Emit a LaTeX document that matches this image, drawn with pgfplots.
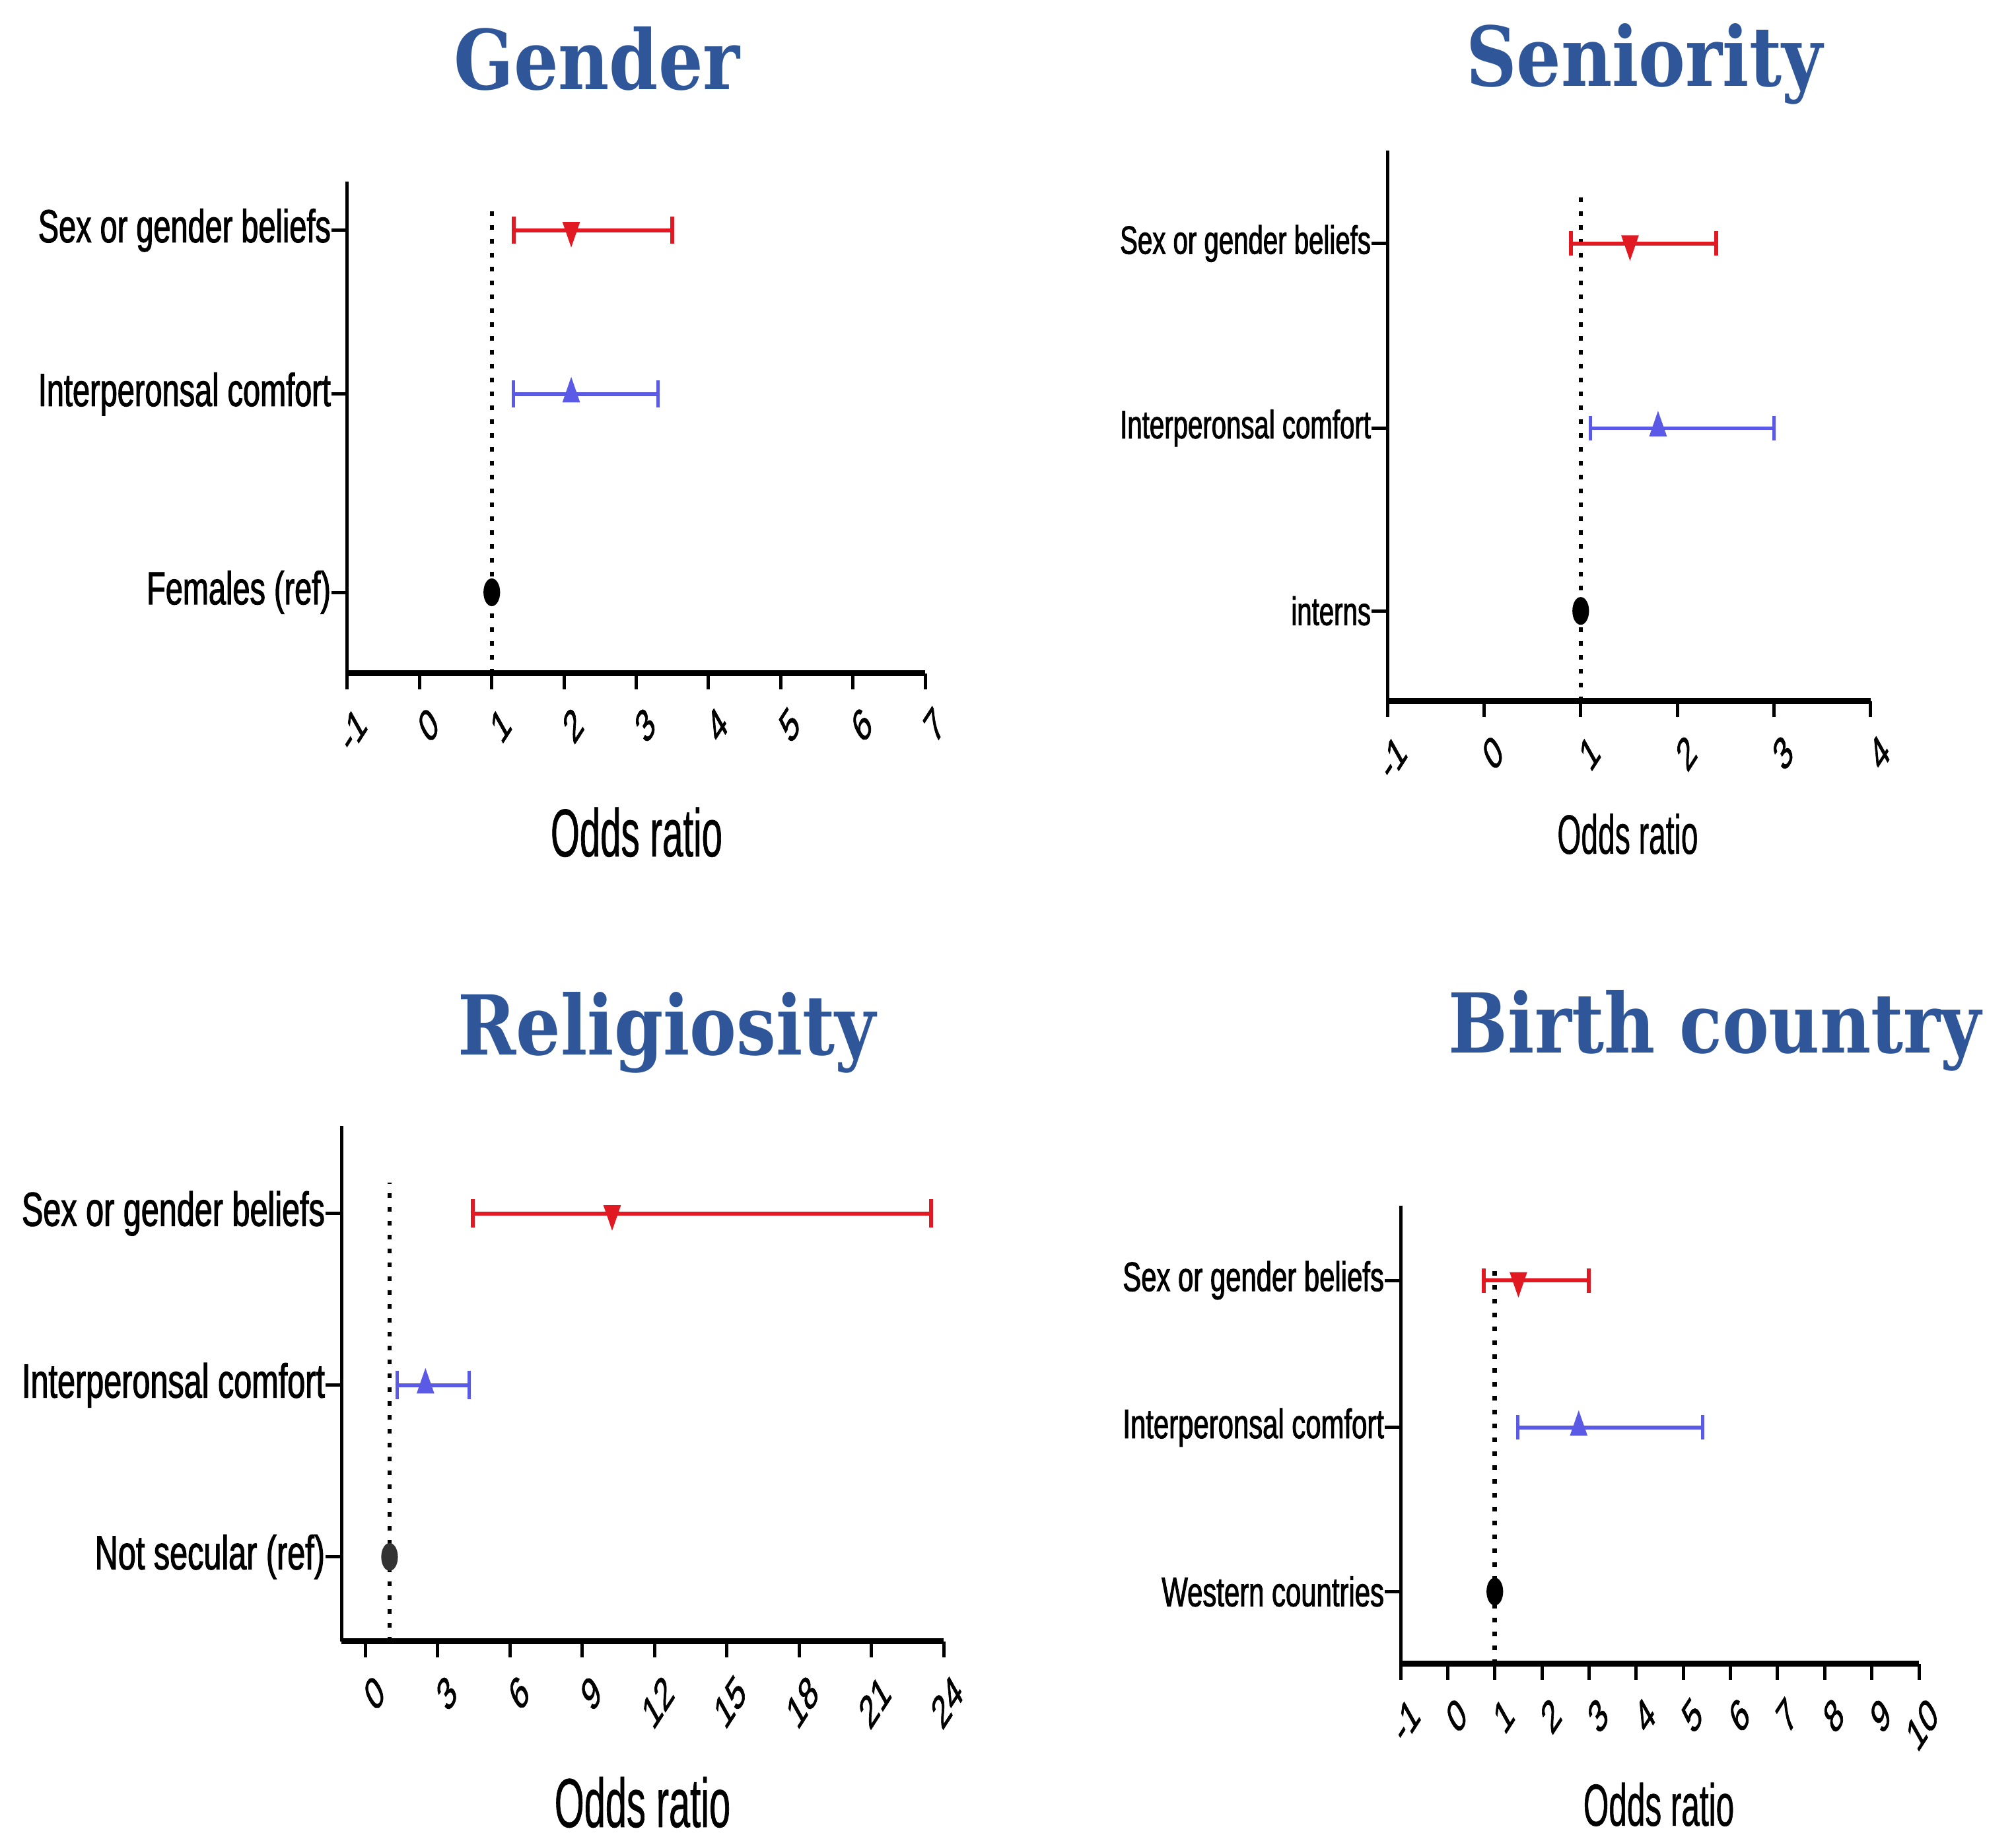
\documentclass[border=0pt]{standalone}
\usepackage{fontspec}
\setmainfont{Liberation Sans}
\newfontfamily\labfont{Liberation Sans}[FakeStretch=0.67, FakeBold=1.5]
\newfontfamily\tickfont{Liberation Sans}[FakeBold=1.5]
\newfontfamily\oddfont{Liberation Sans}[FakeStretch=0.55, FakeBold=0.6]
\newfontfamily\titlefont{DejaVu Serif}[FakeStretch=0.85]
\usepackage{pgfplots}
\pgfplotsset{compat=1.18}
\definecolor{redbar}{HTML}{E11923}
\definecolor{bluebar}{HTML}{5A5AE6}
\definecolor{titleblue}{HTML}{30569A}
\pgfplotsset{
  forest/.style={
    scale only axis, anchor=south west, clip=false,
    axis lines=left, axis line style={-},
    x axis line style={-, line width=1.8pt},
    y axis line style={-, line width=1pt},
    ymin=0, ymax=1,
    tick align=outside, major tick length=4.8pt,
    tick style={black, line width=1pt},
    minor tick num=0,
    /pgf/number format/assume math mode=true,
    xticklabel style={font=\tickfont\fontsize{14}{14}\selectfont, xscale=0.6, rotate=43, anchor=east, inner sep=0pt, yshift=-11pt},
  },
  catlab/.style={yticklabel style={font=\labfont\fontsize{#1}{#1}\selectfont, inner sep=0pt, anchor=east}},
  refline/.style={black, line width=1.3pt, dash pattern=on 1.3pt off 2.9pt},
  redci/.style={redbar, line width=1.2pt, mark=|, mark size=#1, mark options={solid}},
  blueci/.style={bluebar, line width=1.1pt, mark=|, mark size=#1, mark options={solid}},
  redpt/.style={only marks, redbar, mark=triangle*, mark size=4.6pt, mark options={rotate=180, xscale=0.6}},
  bluept/.style={only marks, bluebar, mark=triangle*, mark size=4.6pt, mark options={xscale=0.6}},
  refpt/.style={only marks, black, mark=*, mark size=4pt, mark options={xscale=0.58}},
}
\begin{document}
\begin{tikzpicture}
\path[use as bounding box] (0,0) rectangle (610.6pt,555.8pt);

% ---------------- Gender ----------------
\begin{axis}[forest, catlab=14, at={(105.2pt,351.8pt)}, width=175pt, height=149pt,
  xmin=-1, xmax=7, xtick={-1,0,...,7},
  ytick={0.165,0.568,0.901},
  yticklabels={Females (ref),Interperonsal comfort,Sex or gender beliefs}]
\addplot[refline] coordinates {(1,0) (1,0.953)};
\addplot[redci=4.1pt] coordinates {(1.3,0.901) (3.5,0.901)};
\addplot[redpt] coordinates {(2.1,0.901)};
\addplot[blueci=4.1pt] coordinates {(1.3,0.568) (3.3,0.568)};
\addplot[bluept] coordinates {(2.1,0.568)};
\addplot[refpt] coordinates {(1,0.165)};
\end{axis}

% ---------------- Seniority ----------------
\begin{axis}[forest, catlab=12, at={(420.2pt,343.4pt)}, width=146.4pt, height=166.8pt,
  xmin=-1, xmax=4, xtick={-1,0,...,4},
  ytick={0.164,0.496,0.831},
  yticklabels={interns,Interperonsal comfort,Sex or gender beliefs}]
\addplot[refline] coordinates {(1,0) (1,0.922)};
\addplot[redci=3.7pt] coordinates {(0.90,0.831) (2.40,0.831)};
\addplot[redpt] coordinates {(1.51,0.831)};
\addplot[blueci=3.7pt] coordinates {(1.10,0.496) (3.0,0.496)};
\addplot[bluept] coordinates {(1.80,0.496)};
\addplot[refpt] coordinates {(1,0.164)};
\end{axis}

% ---------------- Religiosity ----------------
\begin{axis}[forest, catlab=14.5, at={(103.4pt,58.6pt)}, width=182.4pt, height=156.2pt,
  xmin=-1, xmax=24, xtick={0,3,...,24},
  ytick={0.164,0.497,0.830},
  yticklabels={Not secular (ref),Interperonsal comfort,Sex or gender beliefs}]
\addplot[refline] coordinates {(1,0) (1,0.89)};
\addplot[redci=4.3pt] coordinates {(4.46,0.830) (23.49,0.830)};
\addplot[redpt] coordinates {(10.24,0.830)};
\addplot[blueci=4.3pt] coordinates {(1.31,0.497) (4.30,0.497)};
\addplot[bluept] coordinates {(2.49,0.497)};
\addplot[refpt, fill=black!80, draw=black!80] coordinates {(1,0.164)};
\end{axis}

% ---------------- Birth country ----------------
\begin{axis}[forest, catlab=12.5, at={(424.2pt,51.8pt)}, width=157pt, height=138.8pt,
  xmin=-1, xmax=10, xtick={-1,0,...,10},
  ytick={0.158,0.516,0.837},
  yticklabels={Western countries,Interperonsal comfort,Sex or gender beliefs}]
\addplot[refline] coordinates {(1,0) (1,0.875)};
\addplot[redci=3.7pt] coordinates {(0.77,0.837) (3.0,0.837)};
\addplot[redpt] coordinates {(1.5,0.837)};
\addplot[blueci=3.7pt] coordinates {(1.49,0.516) (5.41,0.516)};
\addplot[bluept] coordinates {(2.78,0.516)};
\addplot[refpt] coordinates {(1,0.158)};
\end{axis}

% titles
\node[anchor=base, text=titleblue, font=\titlefont\bfseries\fontsize{25}{25}\selectfont] at (180.8pt,528.6pt) {Gender};
\node[anchor=base, text=titleblue, font=\titlefont\bfseries\fontsize{25}{25}\selectfont] at (498pt,529.6pt) {Seniority};
\node[anchor=base, text=titleblue, font=\titlefont\bfseries\fontsize{25}{25}\selectfont] at (202pt,236.2pt) {Religiosity};
\node[anchor=base, text=titleblue, font=\titlefont\bfseries\fontsize{25}{25}\selectfont] at (519.4pt,236.8pt) {Birth country};

% axis titles
\node[anchor=base, font=\oddfont\fontsize{20.5}{20.5}\selectfont] at (192.8pt,296.4pt) {Odds ratio};
\node[anchor=base, font=\oddfont\fontsize{16.8}{16.8}\selectfont] at (493pt,297.2pt) {Odds ratio};
\node[anchor=base, font=\oddfont\fontsize{21}{21}\selectfont] at (194.6pt,2.4pt) {Odds ratio};
\node[anchor=base, font=\oddfont\fontsize{18}{18}\selectfont] at (502.4pt,2.8pt) {Odds ratio};
\end{tikzpicture}
\end{document}
